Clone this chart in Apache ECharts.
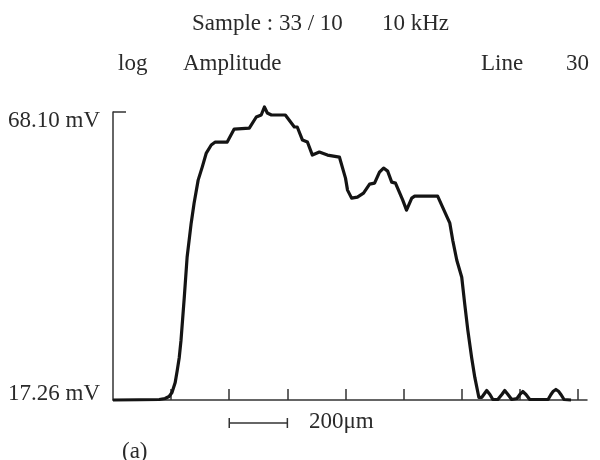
<!DOCTYPE html>
<html><head><meta charset="utf-8">
<script src="https://cdn.jsdelivr.net/npm/echarts@6/dist/echarts.min.js"></script>
<style>html,body{margin:0;padding:0;background:#fff}#c{width:600px;height:460px}</style>
</head><body><div id="c"></div>
<script>
// position along the line scan (µm)
const positionsUm = [0, 90, 159, 179, 193, 203, 214, 221, 228, 234, 245, 255, 269, 279, 293, 307, 321, 338, 352, 393,
  417, 469, 493, 510, 521, 531, 545, 593, 624, 634, 652, 669, 686, 710, 738, 779, 800, 807, 821, 841,
  862, 883, 900, 917, 931, 945, 959, 972, 997, 1010, 1028, 1038, 1117, 1159, 1169, 1183, 1200, 1210, 1221, 1234,
  1245, 1259, 1269, 1276, 1286, 1297, 1307, 1324, 1338, 1348, 1359, 1372, 1390, 1400, 1410, 1421, 1434,
  1497, 1507, 1514, 1524, 1534, 1541, 1552, 1576];
// amplitude (mV, log scale)
const amplitudeMv = [17.26, 17.28, 17.30, 17.38, 17.55, 17.89, 18.76, 19.87, 21.14, 22.93, 28.02, 34.08, 40.09, 44.10, 49.22, 52.37, 56.00, 58.18, 59.02, 59.02,
  62.79, 63.09, 66.50, 67.13, 69.75, 67.78, 67.13, 67.13, 63.40, 63.40, 59.58, 59.02, 55.46, 56.26, 55.46, 54.94, 49.69, 46.93, 45.17, 45.39,
  46.26, 48.29, 48.52, 51.14, 52.13, 51.38, 48.76, 48.52, 44.74, 42.65, 45.17, 45.60, 45.60, 40.09, 36.96, 33.60, 30.98, 27.36, 24.05, 21.14,
  19.22, 17.47, 17.47, 17.72, 18.06, 17.72, 17.30, 17.30, 17.72, 18.06, 17.72, 17.30, 17.38, 17.72, 17.97, 17.72, 17.30,
  17.30, 17.72, 17.97, 18.15, 17.97, 17.72, 17.30, 17.26];
const yLabelValues = [17.26, 68.10];
const xTickValues = [200, 400, 600, 800, 1000, 1200, 1400, 1600];
const xMaxUm = 1631;
const scaleBarUm = [400, 600];
const titleText = 'Sample : 33 / 10';
const freqText = '10 kHz';
const scaleText = '200\u03BCm';

const FONT = "'Liberation Serif','Times New Roman',serif";
const INK = '#2a2a2a';
const chart = echarts.init(document.getElementById('c'), null, {renderer: 'canvas'});
const data = positionsUm.map((x, i) => [x, amplitudeMv[i]]);

function txt(text, x, y, size) {
  return {type: 'text', left: x, top: y - size / 2, style: {text: text, font: size + 'px ' + FONT, fill: INK}};
}

chart.setOption({
  animation: false,
  backgroundColor: '#fff',
  grid: {left: 113, right: 13, top: 112, bottom: 60},
  xAxis: {
    type: 'value', min: 0, max: xMaxUm,
    axisLine: {lineStyle: {color: '#333', width: 1.5}},
    axisTick: {inside: true, length: 11, customValues: xTickValues, lineStyle: {color: '#333', width: 1.5}},
    axisLabel: {show: false}, splitLine: {show: false}
  },
  yAxis: {
    type: 'log', min: yLabelValues[0], max: yLabelValues[1],
    axisLine: {show: true, lineStyle: {color: '#333', width: 1.5}},
    axisTick: {show: true, inside: true, length: 13, customValues: [yLabelValues[1]], lineStyle: {color: '#333', width: 1.5}},
    axisLabel: {
      show: true, customValues: yLabelValues, margin: 13,
      formatter: function (v) { return v > 40 ? '{t|' + yLabelValues[1].toFixed(2) + ' mV}' : '{b|' + yLabelValues[0].toFixed(2) + ' mV}'; },
      rich: {
        t: {fontFamily: FONT, fontSize: 23, color: INK, padding: [17, 0, 0, 0]},
        b: {fontFamily: FONT, fontSize: 23, color: INK, padding: [0, 0, 13, 0]}
      }
    },
    splitLine: {show: false}
  },
  series: [{
    type: 'line', data: data, showSymbol: false, clip: false,
    lineStyle: {color: '#141414', width: 3.2, join: 'round'}
  }]
});

const bx0 = chart.convertToPixel({xAxisIndex: 0}, scaleBarUm[0]);
const bx1 = chart.convertToPixel({xAxisIndex: 0}, scaleBarUm[1]);
const by = 423;
const ls = {stroke: '#333', lineWidth: 1.5};
chart.setOption({
  graphic: [
    txt(titleText, 192, 24, 23),
    txt(freqText, 382, 24, 23),
    txt('log', 118, 64, 23),
    txt('Amplitude', 183, 64, 23),
    txt('Line', 481, 64, 23),
    txt('30', 566, 64, 23),
    {type: 'line', shape: {x1: bx0, y1: by, x2: bx1, y2: by}, style: ls},
    {type: 'line', shape: {x1: bx0, y1: by - 5, x2: bx0, y2: by + 5}, style: ls},
    {type: 'line', shape: {x1: bx1, y1: by - 5, x2: bx1, y2: by + 5}, style: ls},
    txt(scaleText, 309, 422, 23),
    txt('(a)', 122, 452, 23)
  ]
});
</script></body></html>
